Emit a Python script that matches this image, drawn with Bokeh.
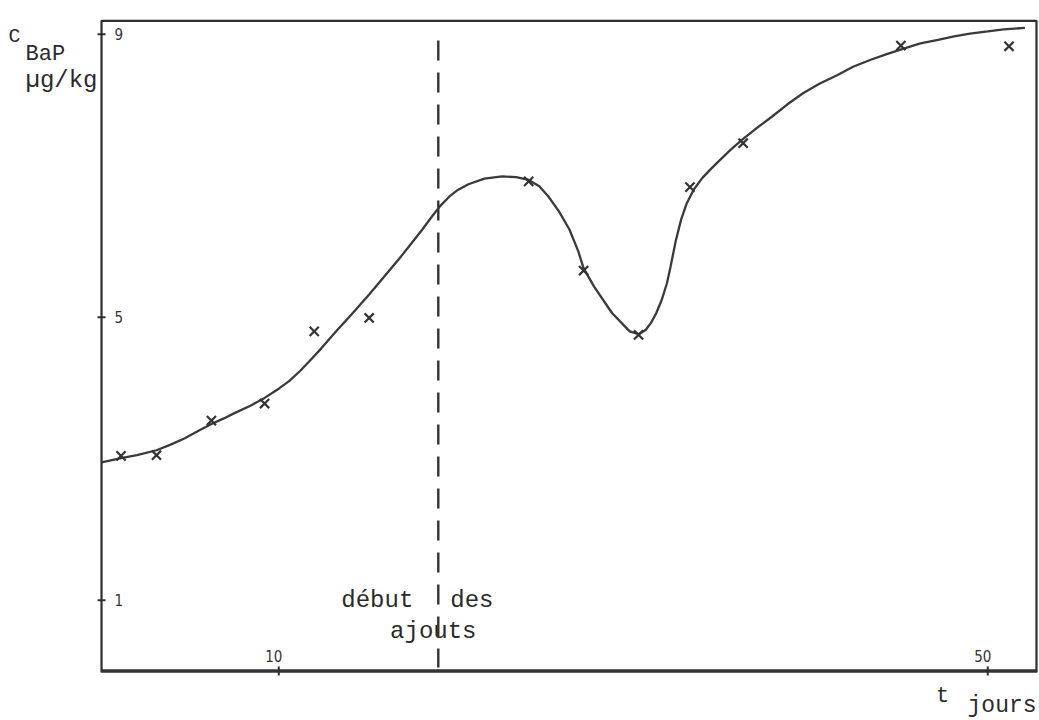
from math import pi
from bokeh.plotting import figure
from bokeh.models import Label, Range1d
from bokeh.core.properties import value
from bokeh.embed import file_html
from bokeh.resources import INLINE

# ---- data ----
t_obs = [1.1, 3.1, 6.2, 9.2, 12.0, 15.1, 24.1, 27.2, 30.3, 33.2, 36.2, 45.1, 51.2]
c_obs = [3.04, 3.05, 3.54, 3.78, 4.80, 4.99, 6.92, 5.66, 4.75, 6.84, 7.46, 8.84, 8.83]

curve_t = [0.0, 1.1, 2.0, 3.1, 3.9, 4.7, 5.5, 6.2, 6.9, 7.5, 8.4, 9.2, 10.0, 10.6,
           11.2, 11.7, 12.4, 13.2, 14.1, 15.1, 16.0, 16.9, 17.5, 18.1, 18.6, 19.1,
           19.6, 20.1, 20.7, 21.6, 22.6, 23.4, 24.1, 24.7, 25.2, 25.8, 26.4, 26.9,
           27.2, 27.8, 28.8, 29.8, 30.3, 30.7, 31.0, 31.3, 31.6, 31.9, 32.1, 32.4,
           32.7, 33.0, 33.4, 33.9, 34.4, 34.8, 35.5, 36.2, 37.0, 37.8, 38.7, 39.6,
           40.5, 41.5, 42.4, 43.4, 44.3, 45.3, 46.2, 47.2, 48.1, 49.0, 50.0, 50.9,
           52.1]
curve_c = [2.95, 3.01, 3.05, 3.12, 3.20, 3.29, 3.40, 3.49, 3.57, 3.645, 3.75, 3.86, 3.99, 4.10,
           4.24, 4.37, 4.56, 4.79, 5.04, 5.32, 5.59, 5.86, 6.05, 6.24, 6.41, 6.57,
           6.70, 6.80, 6.88, 6.96, 6.99, 6.98, 6.94, 6.85, 6.71, 6.50, 6.24, 5.93,
           5.69, 5.43, 5.06, 4.80, 4.76, 4.82, 4.92, 5.06, 5.24, 5.48, 5.71, 6.08,
           6.38, 6.60, 6.80, 6.97, 7.10, 7.20, 7.37, 7.52, 7.68, 7.83, 8.01, 8.17,
           8.30, 8.42, 8.54, 8.64, 8.72, 8.80, 8.87, 8.92, 8.97, 9.01, 9.04, 9.07,
           9.09]

ajout_day = 19
x_ticks = [10, 50]
x_tick_labels = ["10", "50"]
y_ticks = [1, 5, 9]
y_tick_labels = ["1", "5", "9"]

# ---- layout (frame drawn in data space, canvas = whole window) ----
X_MIN, X_MAX = -5.70, 52.92
Y_MIN, Y_MAX = -0.70, 9.477
BOX_R, BOX_T = 52.75, 9.19

INK = "#2e2e2e"
MONO = "Liberation Mono"
NARROW = "DejaVu Sans Condensed, Roboto"

p = figure(width=1039, height=720,
           x_range=Range1d(X_MIN, X_MAX), y_range=Range1d(Y_MIN, Y_MAX),
           x_axis_type=None, y_axis_type=None,
           toolbar_location=None, output_backend="svg",
           min_border=0)
p.outline_line_color = None
p.background_fill_color = "white"
p.border_fill_color = "white"

# frame box
p.line([0, 0, BOX_R, BOX_R], [-0.02, BOX_T, BOX_T, -0.02], line_color=INK, line_width=2.2)
p.line([0, BOX_R], [0, 0], line_color="#333333", line_width=3.5)

# vertical dashed line "début des ajouts"
p.segment(x0=[ajout_day], y0=[8.91], x1=[ajout_day], y1=[0.05],
          line_color="#333333", line_width=2.4, line_dash="20 12")

# ticks
p.scatter(x=[0] * len(y_ticks), y=y_ticks, marker="dash", size=8,
          line_color=INK, line_width=2)
p.scatter(x=x_ticks, y=[0] * len(x_ticks), marker="dash", angle=pi / 2, size=9,
          line_color=INK, line_width=2)

# tick labels inside the frame
p.text(x=[0] * len(y_ticks), y=y_ticks, text=y_tick_labels, x_offset=13,
       text_baseline="middle", text_align="left", text_color="#333333",
       text_font=value(NARROW), text_font_size="15px")
p.text(x=x_ticks, y=[0] * len(x_ticks), text=x_tick_labels, x_offset=-5, y_offset=-15,
       text_baseline="middle", text_align="center", text_color="#333333",
       text_font=value(NARROW), text_font_size="15px")

# fitted curve and measurements
p.line(curve_t, curve_c, line_color="#3a3a3a", line_width=2.3)
p.scatter(t_obs, c_obs, marker="x", size=13, line_color="#333333", line_width=2.2)

# annotations
def lab(x, y, text, size, align="left", x_offset=0):
    p.add_layout(Label(x=x, y=y, text=text, x_offset=x_offset, text_align=align,
                       text_baseline="alphabetic", text_font=MONO,
                       text_font_size=size, text_color="#2a2a2a"))

lab(ajout_day, 0.99, "début", "24px", align="right", x_offset=-25)
lab(ajout_day, 0.99, "des", "24px", align="left", x_offset=12)
lab(ajout_day, 0.56, "ajouts", "24px", align="center", x_offset=-5)

lab(-4.91, 8.97, "C", "20px", align="center")
lab(-4.29, 8.72, "BaP", "22px")
lab(-4.29, 8.34, "µg/kg", "24px")

lab(47.45, -0.36, "t", "22px", align="center")
lab(48.86, -0.50, "jours", "23px")

open("out.html", "w").write(file_html(p, INLINE))
